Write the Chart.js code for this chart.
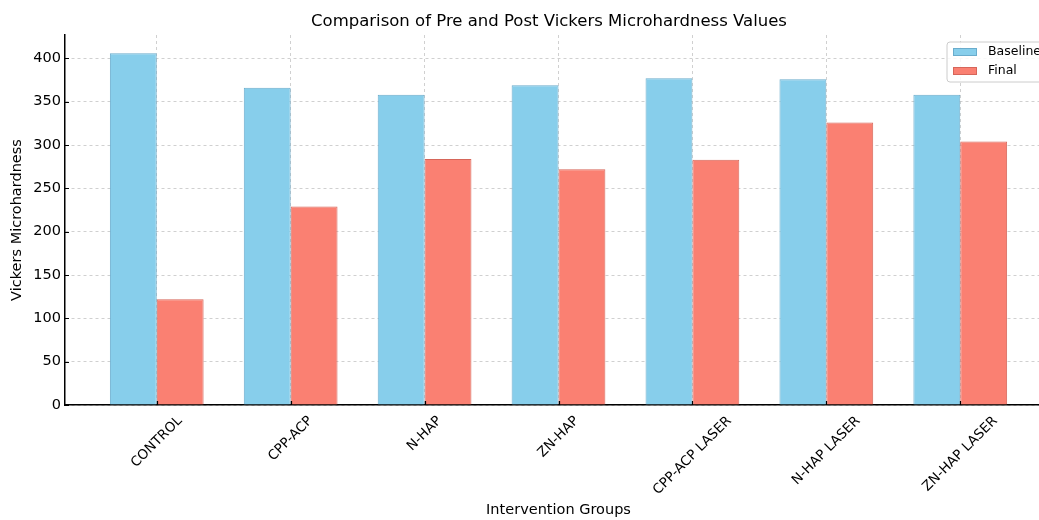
<!DOCTYPE html>
<html>
<head>
<meta charset="utf-8">
<script src="https://cdn.jsdelivr.net/npm/chart.js@4.4.1/dist/chart.umd.min.js"></script>
<style>
  html, body { margin: 0; padding: 0; background: #fff; overflow: hidden; }
  #wrap { width: 1100px; height: 520px; }
</style>
</head>
<body>
<div id="wrap"><canvas id="grafico" width="1100" height="520"></canvas></div>
<script>
const grupos = ["CONTROL", "CPP-ACP", "N-HAP", "ZN-HAP", "CPP-ACP LASER", "N-HAP LASER", "ZN-HAP LASER"];
const baseline = [406, 366, 358, 369, 377, 376, 358];
const final = [122, 229, 284, 272, 283, 326, 304];
const yTicks = [0, 50, 100, 150, 200, 250, 300, 350, 400];
const titulo = 'Comparison of Pre and Post Vickers Microhardness Values';

const FONT = "'DejaVu Sans', sans-serif";

// titulo, etiquetas del eje x rotadas (centradas como matplotlib) y marcas internas
const decoraciones = {
  id: 'decoraciones',
  afterDraw(chart) {
    const ctx = chart.ctx;
    const sx = chart.scales.x;
    const sy = chart.scales.y;
    const area = chart.chartArea;
    ctx.save();

    ctx.fillStyle = '#000';
    ctx.font = "16.5px " + FONT;
    ctx.textAlign = 'center';
    ctx.textBaseline = 'middle';
    ctx.fillText(titulo, 549, 22);

    ctx.font = "13.5px " + FONT;
    grupos.forEach((g, i) => {
      const w = ctx.measureText(g).width;
      const cx = sx.getPixelForValue(i);
      const cy = area.bottom + 9 + (w + 13.5) * 0.3536;
      ctx.save();
      ctx.translate(cx, cy);
      ctx.rotate(-Math.PI / 4);
      ctx.fillText(g, 0, 0);
      ctx.restore();
    });

    ctx.strokeStyle = '#000';
    ctx.lineWidth = 1.2;
    ctx.beginPath();
    grupos.forEach((g, i) => {
      const px = Math.round(sx.getPixelForValue(i)) + 0.5;
      ctx.moveTo(px, area.bottom);
      ctx.lineTo(px, area.bottom - 4);
    });
    yTicks.forEach(v => {
      const py = Math.round(sy.getPixelForValue(v)) + 0.5;
      ctx.moveTo(area.left, py);
      ctx.lineTo(area.left + 4, py);
    });
    ctx.stroke();
    ctx.restore();
  }
};

// leyenda arriba a la derecha
const leyenda = {
  id: 'leyenda',
  afterDraw(chart) {
    const ctx = chart.ctx;
    const x = 947, y = 42;
    ctx.save();
    ctx.fillStyle = 'rgba(255,255,255,0.85)';
    ctx.strokeStyle = '#cccccc';
    ctx.lineWidth = 1;
    ctx.beginPath();
    ctx.roundRect(x, y, 130, 40, 3);
    ctx.fill();
    ctx.stroke();
    ctx.font = "12.5px " + FONT;
    ctx.textBaseline = 'middle';
    chart.data.datasets.forEach((ds, i) => {
      const yy = y + 10 + i * 19;
      ctx.fillStyle = ds.backgroundColor;
      ctx.fillRect(x + 6, yy - 4, 24, 8);
      ctx.strokeStyle = ds.borderColor;
      ctx.strokeRect(x + 6.5, yy - 3.5, 23, 7);
      ctx.fillStyle = '#000';
      ctx.fillText(ds.label, x + 41, yy);
    });
    ctx.restore();
  }
};

const ctx = document.getElementById("grafico").getContext("2d");

new Chart(ctx, {
  type: 'bar',
  data: {
    datasets: [
      {
        label: 'Baseline',
        data: baseline.map((v, i) => ({ x: i, y: v })),
        backgroundColor: '#87CEEB',
        borderColor: '#6aaccc',
        borderWidth: 1
      },
      {
        label: 'Final',
        data: final.map((v, i) => ({ x: i, y: v })),
        backgroundColor: '#FA8072',
        borderColor: '#d6665a',
        borderWidth: 1
      }
    ]
  },
  options: {
    responsive: false,
    animation: false,
    layout: { padding: { left: 0, right: 48, top: 35, bottom: 0 } },
    categoryPercentage: 0.7,
    barPercentage: 1.0,
    plugins: {
      legend: { display: false },
      tooltip: { enabled: false },
      title: { display: false }
    },
    scales: {
      x: {
        type: 'linear',
        offset: false,
        min: -0.685,
        max: 6.685,
        afterBuildTicks: s => { s.ticks = grupos.map((g, i) => ({ value: i })); },
        afterFit: s => { s.height = 115; },
        ticks: { display: false },
        grid: { color: '#c4c4c4', lineWidth: 0.8, drawTicks: false, offset: false },
        border: { color: '#000', width: 1.5, dash: [3, 3] },
        title: {
          display: true,
          text: 'Intervention Groups',
          color: '#000',
          font: { family: FONT, size: 14.5 },
          padding: { top: 0, bottom: 1 }
        }
      },
      y: {
        min: 0,
        max: 427,
        afterBuildTicks: s => { s.ticks = yTicks.map(v => ({ value: v })); },
        afterFit: s => { s.width = 65; },
        ticks: {
          color: '#000',
          padding: 4,
          font: { family: FONT, size: 14.5 }
        },
        grid: { color: '#c4c4c4', lineWidth: 0.8, drawTicks: false },
        border: { color: '#000', width: 1.5, dash: [3, 3] },
        title: {
          display: true,
          text: 'Vickers Microhardness',
          color: '#000',
          font: { family: FONT, size: 14.5 },
          padding: { top: 9, bottom: 0 }
        }
      }
    }
  },
  plugins: [decoraciones, leyenda]
});
</script>
</body>
</html>
